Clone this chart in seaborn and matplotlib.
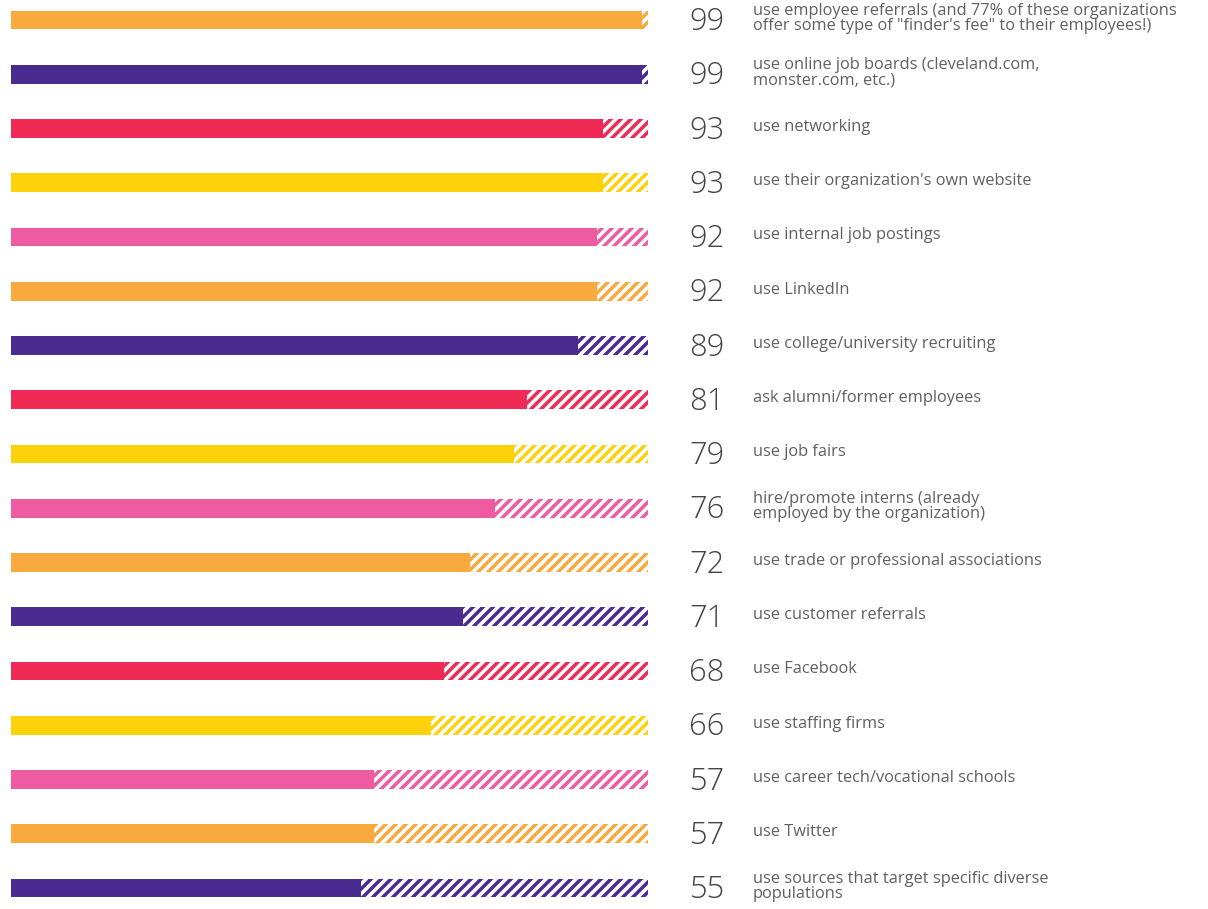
import matplotlib
matplotlib.use("Agg")
import matplotlib.pyplot as plt
import seaborn as sns
import pandas as pd

values = [99, 99, 93, 93, 92, 92, 89, 81, 79, 76, 72, 71, 68, 66, 57, 57, 55]
labels = [
    "use employee referrals (and 77% of these organizations\noffer some type of \"finder's fee\" to their employees!)",
    "use online job boards (cleveland.com,\nmonster.com, etc.)",
    "use networking",
    "use their organization's own website",
    "use internal job postings",
    "use LinkedIn",
    "use college/university recruiting",
    "ask alumni/former employees",
    "use job fairs",
    "hire/promote interns (already\nemployed by the organization)",
    "use trade or professional associations",
    "use customer referrals",
    "use Facebook",
    "use staffing firms",
    "use career tech/vocational schools",
    "use Twitter",
    "use sources that target specific diverse\npopulations",
]
# colour pattern as seen: orange, purple, red, yellow, pink, repeating
palette_seq = ["#F9AA3E", "#4A2C91", "#EE2A55", "#FED20A", "#EE5BA0", "#F9AA3E",
               "#4A2C91", "#EE2A55", "#FED20A", "#EE5BA0", "#F9AA3E", "#4A2C91",
               "#EE2A55", "#FED20A", "#EE5BA0", "#F9AA3E", "#4A2C91"]
total = 100

sns.set_theme(style="white")
plt.rcParams["hatch.linewidth"] = 2.1
plt.rcParams["font.family"] = ["Open Sans", "DejaVu Sans"]

DPI = 120
fig = plt.figure(figsize=(1208 / DPI, 909 / DPI), dpi=DPI)
ax = fig.add_axes([0, 0, 1, 1])

df = pd.DataFrame({"item": labels, "value": values, "rest": [total - v for v in values]})
pal = dict(zip(labels, palette_seq))

sns.barplot(data=df, y="item", x="value", hue="item", palette=pal, orient="h",
            width=0.35, legend=False, ax=ax, saturation=1, linewidth=0)

# hatched remainder
for i, (v, r, c) in enumerate(zip(df["value"], df["rest"], palette_seq)):
    ax.barh(i, r, left=v, height=0.35, facecolor="white", edgecolor=c,
            hatch="////", linewidth=0)

px_per_unit = (648 - 11) / 100
ax.set_xlim(-11 / px_per_unit, (1208 - 11) / px_per_unit)
ax.set_ylim((909 - 20) / 54.25, -20 / 54.25)

num_x = (707 - 11) / px_per_unit
lab_x = (753 - 11) / px_per_unit
for i, (v, lab) in enumerate(zip(values, labels)):
    ax.text(num_x, i + 0.04, f"{v}", ha="center", va="center", fontsize=18.5,
            color="#444444", fontweight="light")
    ax.text(lab_x, i - 0.03, lab, ha="left", va="center", fontsize=9.8,
            color="#606060", linespacing=0.92)

ax.set_axis_off()
fig.savefig("out.png", dpi=DPI, facecolor="white")
